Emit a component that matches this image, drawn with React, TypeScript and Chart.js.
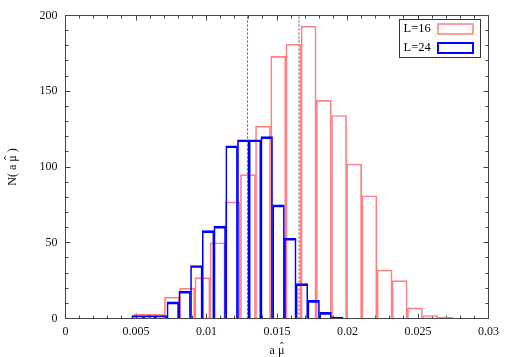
import { useEffect, useRef } from "react";
import { Chart, registerables } from "chart.js";

Chart.register(...registerables);

// ---- data ----
const redLabel = "L=16";
const blueLabel = "L=24";
const redCenters = [
  0.0054, 0.00648, 0.00755, 0.00863, 0.00971, 0.01078, 0.01186, 0.01294, 0.01401, 0.01509, 0.01617,
  0.01724, 0.01832, 0.0194, 0.02047, 0.02155, 0.02263, 0.0237, 0.02478, 0.02586, 0.02693,
];
const redCounts = [3, 3, 14, 20, 27, 50, 77, 95, 127, 173, 181, 193, 144, 134, 102, 81, 32, 25, 7, 2, 1];
const blueCenters = [
  0.00512, 0.00595, 0.00678, 0.00761, 0.00845, 0.00928, 0.01011, 0.01094, 0.01178, 0.01261, 0.01344,
  0.01427, 0.01511, 0.01594, 0.01677, 0.0176, 0.01844, 0.01927,
];
const blueCounts = [2, 2, 2, 11, 18, 35, 58, 61, 114, 118, 118, 120, 75, 53, 23, 12, 4, 1];
const markerX = [0.01291, 0.01656];
const xTickLabels = ["0", "0.005", "0.01", "0.015", "0.02", "0.025", "0.03"];
const yTickLabels = ["0", "50", "100", "150", "200"];
// axis titles: text before the hatted letter, the hatted letter, text after it
const xTitleParts = ["a ", "\u03BC", ""];
const yTitleParts = ["N( a ", "\u03BC", " )"];
const HAT = "\u02C6";

const X_MIN = 0;
const X_MAX = 0.03;
const X_STEP = 0.005;
const X_MINOR = 0.001;
const Y_MIN = 0;
const Y_MAX = 200;
const Y_STEP = 50;
const Y_MINOR = 10;

const FONT = '"Liberation Serif", "DejaVu Serif", serif';
const RED = "#ff8080";
const BLUE = "#0000ff";
const FRAME = "#444444";

const framePlugin = {
  id: "frameTicks",
  beforeDatasetsDraw(chart: any) {
    const { ctx, chartArea: a, scales } = chart;
    const xs = scales.x;
    const ys = scales.y;
    ctx.save();
    ctx.strokeStyle = FRAME;
    ctx.lineWidth = 1;
    ctx.beginPath();
    const nx = Math.round((X_MAX - X_MIN) / X_MINOR);
    const perMajX = Math.round(X_STEP / X_MINOR);
    for (let i = 0; i <= nx; i++) {
      const px = Math.round(xs.getPixelForValue(X_MIN + i * X_MINOR) - 0.5) + 0.5;
      const len = i % perMajX === 0 ? 5 : 3;
      ctx.moveTo(px, a.bottom);
      ctx.lineTo(px, a.bottom - len);
      ctx.moveTo(px, a.top);
      ctx.lineTo(px, a.top + len);
    }
    const ny = Math.round((Y_MAX - Y_MIN) / Y_MINOR);
    const perMajY = Math.round(Y_STEP / Y_MINOR);
    for (let i = 0; i <= ny; i++) {
      const py = Math.round(ys.getPixelForValue(Y_MIN + i * Y_MINOR) - 0.5) + 0.5;
      const len = i % perMajY === 0 ? 5 : 3;
      ctx.moveTo(a.left, py);
      ctx.lineTo(a.left + len, py);
      ctx.moveTo(a.right, py);
      ctx.lineTo(a.right - len, py);
    }
    ctx.stroke();
    ctx.strokeRect(a.left, a.top, a.right - a.left, a.bottom - a.top);
    ctx.restore();
  },
};

function drawHatted(ctx: CanvasRenderingContext2D, parts: string[], cx: number, baseline: number) {
  const [before, letter, after] = parts;
  const wb = ctx.measureText(before).width;
  const wl = ctx.measureText(letter).width;
  const wa = ctx.measureText(after).width;
  const start = cx - (wb + wl + wa) / 2;
  ctx.textAlign = "left";
  ctx.textBaseline = "alphabetic";
  ctx.fillText(before + letter + after, start, baseline);
  ctx.textAlign = "center";
  ctx.fillText(HAT, start + wb + wl / 2 + 0.5, baseline - 3);
}

const titlePlugin = {
  id: "axisTitles",
  afterDraw(chart: any) {
    const { ctx, chartArea: a } = chart;
    ctx.save();
    ctx.font = "12px " + FONT;
    ctx.fillStyle = "#111111";
    drawHatted(ctx, xTitleParts, (a.left + a.right) / 2, 354);
    ctx.translate(16, (a.top + a.bottom) / 2);
    ctx.rotate(-Math.PI / 2);
    drawHatted(ctx, yTitleParts, 0, 0);
    ctx.restore();
  },
};

const legendPlugin = {
  id: "boxLegend",
  afterDraw(chart: any) {
    const { ctx, chartArea: a } = chart;
    const right = a.right - 8;
    const top = a.top + 4;
    const w = 81;
    const h = 38;
    const left = right - w;
    ctx.save();
    ctx.fillStyle = "#ffffff";
    ctx.fillRect(left, top, w, h);
    ctx.strokeStyle = "#333333";
    ctx.lineWidth = 1;
    ctx.strokeRect(left, top, w, h);
    const items = chart.data.datasets.filter((d: any) => d.type !== "line");
    items.forEach((d: any, i: number) => {
      const cy = top + 9.5 + i * 19;
      ctx.font = "12.5px " + FONT;
      ctx.fillStyle = "#000000";
      ctx.textAlign = "left";
      ctx.textBaseline = "middle";
      ctx.fillText(d.label, left + 4, cy);
      ctx.strokeStyle = d.borderColor;
      ctx.lineWidth = d.legendLineWidth;
      ctx.strokeRect(right - 7.5 - 35, cy - 5, 35, 10);
    });
    ctx.restore();
  },
};

export default function App() {
  const ref = useRef<HTMLCanvasElement | null>(null);

  useEffect(() => {
    if (!ref.current) return;
    Chart.defaults.font.family = FONT;
    const lineSets = markerX.map((x) => ({
      type: "line" as const,
      label: "",
      xAxisID: "x",
      yAxisID: "y",
      data: [
        { x, y: Y_MIN },
        { x, y: Y_MAX },
      ],
      borderColor: "#555555",
      borderWidth: 1,
      borderDash: [2, 2],
      pointRadius: 0,
      fill: false,
      order: 2,
    }));
    const chart = new Chart(ref.current, {
      type: "bar",
      data: {
        datasets: [
          {
            type: "bar",
            label: redLabel,
            xAxisID: "x",
            yAxisID: "y",
            data: redCenters.map((x, i) => ({ x, y: redCounts[i] })),
            backgroundColor: "rgba(0,0,0,0)",
            borderColor: RED,
            borderWidth: { top: 1, left: 1, right: 1, bottom: 0 },
            borderSkipped: "start",
            barPercentage: 1,
            categoryPercentage: 1,
            grouped: false,
            order: 1,
            legendLineWidth: 1.5,
          } as any,
          {
            type: "bar",
            label: blueLabel,
            xAxisID: "x2",
            yAxisID: "y",
            data: blueCenters.map((x, i) => ({ x, y: blueCounts[i] })),
            backgroundColor: "rgba(0,0,0,0)",
            borderColor: BLUE,
            borderWidth: { top: 2, left: 1, right: 1, bottom: 0 },
            borderSkipped: "start",
            barPercentage: 1,
            categoryPercentage: 1,
            grouped: false,
            order: 0,
            legendLineWidth: 2,
          } as any,
          ...lineSets,
        ],
      },
      options: {
        animation: false,
        responsive: false,
        events: [],
        layout: { padding: { top: 15.5, right: 21.5, left: 0, bottom: 0 } },
        plugins: {
          legend: { display: false },
          tooltip: { enabled: false },
          title: { display: false },
        },
        scales: {
          x: {
            type: "linear",
            position: "bottom",
            min: X_MIN,
            max: X_MAX,
            offset: false,
            grid: { display: false, drawTicks: false, offset: false },
            border: { display: false },
            ticks: {
              stepSize: X_STEP,
              padding: 6,
              color: "#111111",
              font: { size: 12, family: FONT },
              maxRotation: 0,
              autoSkip: false,
              callback: (_v: any, i: number) => xTickLabels[i] ?? "",
            },
            title: { display: false },
            afterFit: (s: any) => {
              s.height = 38.5;
            },
          },
          x2: {
            type: "linear",
            position: "bottom",
            display: false,
            min: X_MIN,
            max: X_MAX,
            offset: false,
            grid: { display: false, drawTicks: false, offset: false },
            ticks: { stepSize: X_STEP },
          },
          y: {
            type: "linear",
            position: "left",
            min: Y_MIN,
            max: Y_MAX,
            grid: { display: false, drawTicks: false },
            border: { display: false },
            ticks: {
              stepSize: Y_STEP,
              padding: 8,
              color: "#111111",
              font: { size: 12, family: FONT },
              callback: (_v: any, i: number) => yTickLabels[i] ?? "",
            },
            title: { display: false },
            afterFit: (s: any) => {
              s.width = 65.5;
            },
          },
        },
      } as any,
      plugins: [framePlugin, legendPlugin, titlePlugin],
    });
    return () => chart.destroy();
  }, []);

  return (
    <div style={{ position: "fixed", left: 0, top: 0, width: 510, height: 357, background: "#ffffff" }}>
      <canvas ref={ref} width={510} height={357} style={{ display: "block" }} />
    </div>
  );
}
